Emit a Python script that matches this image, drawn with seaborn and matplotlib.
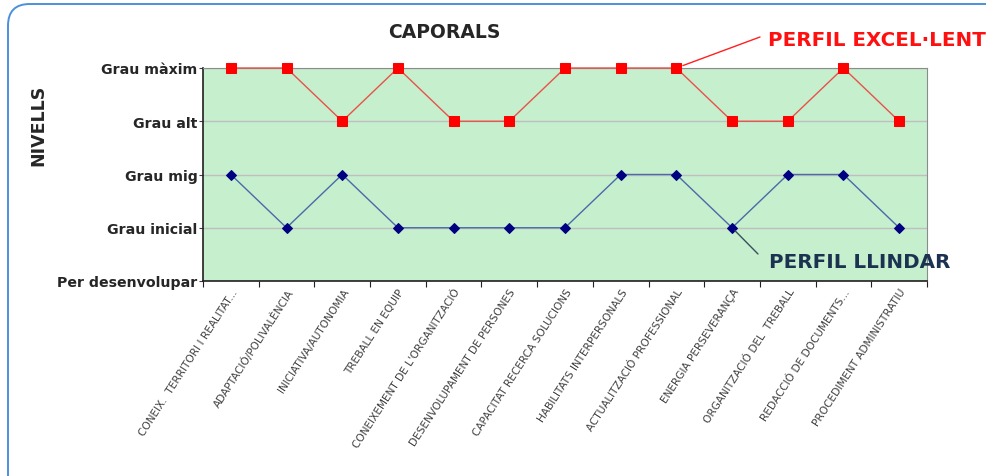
import pandas as pd
import seaborn as sns
import matplotlib.pyplot as plt
from matplotlib.patches import FancyBboxPatch

competencies = [
    'CONEIX.  TERRITORI I REALITAT...',
    'ADAPTACIÓ/POLIVALÈNCIA',
    'INICIATIVA/AUTONOMIA',
    'TREBALL EN EQUIP',
    "CONEIXEMENT DE L'ORGANITZACIÓ",
    'DESENVOLUPAMENT DE PERSONES',
    'CAPACITAT RECERCA SOLUCIONS',
    'HABILITATS INTERPERSONALS',
    'ACTUALITZACIÓ PROFESSIONAL',
    'ENERGIA PERSEVERANÇA',
    'ORGANITZACIÓ DEL  TREBALL',
    'REDACCIÓ DE DOCUMENTS...',
    'PROCEDIMENT ADMINISTRATIU',
]
levels = ['Per desenvolupar', 'Grau inicial', 'Grau mig', 'Grau alt', 'Grau màxim']
excellent = [4, 4, 3, 4, 3, 3, 4, 4, 4, 3, 3, 4, 3]
threshold = [2, 1, 2, 1, 1, 1, 1, 2, 2, 1, 2, 2, 1]

df = pd.DataFrame({'pos': range(len(competencies)),
                   'excel': excellent, 'llindar': threshold})

fig = plt.figure(figsize=(9.86, 4.77), dpi=100)
ax = fig.add_axes([203/986, 1 - 282/477, 724/986, 213/477])
ax.set_facecolor('#C6EFCE')

# rounded frame of the chart area (only top and left edges visible)
frame = FancyBboxPatch((8/986, -0.2), 1.2, 1.2 - 5/477,
                       boxstyle='round,pad=0,rounding_size=0.022',
                       transform=fig.transFigure, fill=False,
                       edgecolor='#4A90DC', lw=1.4, mutation_aspect=2.07)
fig.patches.append(frame)

for y in range(5):
    ax.axhline(y, color='#BFBFBF', lw=1, zorder=1)

sns.lineplot(data=df, x='pos', y='excel', ax=ax, color='#E8524A', lw=1,
             marker='s', markersize=7.5, markerfacecolor='#FF0000',
             markeredgecolor='#FF0000', zorder=3, clip_on=False)
sns.lineplot(data=df, x='pos', y='llindar', ax=ax, color='#4A6AA8', lw=1,
             marker='D', markersize=5, markerfacecolor='#000080',
             markeredgecolor='#000080', zorder=3, clip_on=False)

ax.set_xlim(-0.5, len(competencies) - 0.5)
ax.set_ylim(0, 4)
ax.set_xlabel('')
ax.set_ylabel('')

ax.set_yticks(range(5))
ax.set_yticklabels(levels, fontsize=10.2, fontweight='bold', color='#262626')
ax.tick_params(axis='y', length=3, width=0.8, pad=1, color='#404040')

ax.set_xticks(range(len(competencies)))
ax.set_xticklabels(competencies, rotation=57, ha='right',
                   rotation_mode='anchor', fontsize=7.6, color='#404040',
                   family=['Liberation Sans Narrow', 'DejaVu Sans'])
ax.tick_params(axis='x', length=0, pad=4)
ax.set_xticks([i - 0.5 for i in range(len(competencies) + 1)], minor=True)
ax.tick_params(axis='x', which='minor', length=4, width=0.8, color='#202020')

ax.spines['left'].set_color('#202020')
ax.spines['bottom'].set_color('#202020')
ax.spines['left'].set_linewidth(1.2)
ax.spines['bottom'].set_linewidth(1.2)
ax.spines['top'].set_color('#8C8C8C')
ax.spines['right'].set_color('#8C8C8C')

fig.text(444/986, 1 - 32/477, 'CAPORALS', ha='center', va='center',
         fontsize=13.5, fontweight='bold', color='#262626')
fig.text(38/986, 1 - 125/477, 'NIVELLS', ha='center', va='center',
         rotation=90, fontsize=12.5, fontweight='bold', color='#262626')

ax.annotate('', xy=(8, 4), xytext=(760, 477 - 38), textcoords='figure pixels',
            arrowprops=dict(arrowstyle='-', color='#FF2020', lw=1,
                            shrinkA=0, shrinkB=5), annotation_clip=False)
fig.text(768/986, 1 - 40/477, 'PERFIL EXCEL·LENT', ha='left', va='center',
         fontsize=14.3, fontweight='bold', color='#FF1010')

ax.annotate('', xy=(9, 1), xytext=(758, 477 - 255), textcoords='figure pixels',
            arrowprops=dict(arrowstyle='-', color='#3A4E5E', lw=1,
                            shrinkA=0, shrinkB=3), annotation_clip=False)
fig.text(769/986, 1 - 262/477, 'PERFIL LLINDAR', ha='left', va='center',
         fontsize=14.3, fontweight='bold', color='#1B3350')

fig.savefig('out.png', dpi=100)
